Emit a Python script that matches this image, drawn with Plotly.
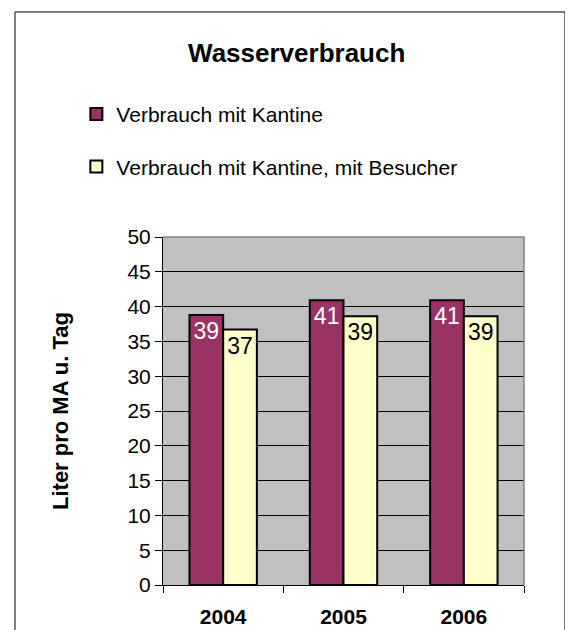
import plotly.graph_objects as go

# Daten (Liter pro Mitarbeiter und Tag)
jahre = ["2004", "2005", "2006"]
mit_kantine = [38.8, 40.9, 40.9]
mit_besucher = [36.7, 38.6, 38.6]

serie_namen = ["Verbrauch mit Kantine", "Verbrauch mit Kantine, mit Besucher"]
y_ticks = [0, 5, 10, 15, 20, 25, 30, 35, 40, 45, 50]

schrift = "Liberation Sans, Arial, sans-serif"

color_dict = dict()
color_dict["kantine"] = "#993366"
color_dict["besucher"] = "#FFFFCC"

fig = go.Figure()

fig.add_trace(go.Bar(
    x=jahre, y=mit_kantine,
    name=serie_namen[0],
    legendgroup="a",
    marker=dict(color=color_dict["kantine"], line=dict(color="black", width=2)),
    text=[str(round(v)) for v in mit_kantine],
    textposition="inside",
    insidetextanchor="end",
    textfont=dict(color="white", size=23, family=schrift),
))

fig.add_trace(go.Bar(
    x=jahre, y=mit_besucher,
    name=serie_namen[1],
    legendgroup="b",
    marker=dict(color=color_dict["besucher"], line=dict(color="black", width=2)),
    text=[str(round(v)) for v in mit_besucher],
    textposition="inside",
    insidetextanchor="end",
    textfont=dict(color="black", size=23, family=schrift),
))

# die Seite hat 8px Rand im body -> Figur entsprechend kleiner
fig.update_layout(
    width=565, height=622,
    margin=dict(l=155, r=49, t=229, b=45),
    paper_bgcolor="white",
    plot_bgcolor="#C0C0C0",
    font=dict(family=schrift, size=21, color="black"),
    barmode="group",
    bargap=0.44,
    bargroupgap=0,
    showlegend=True,
    title=dict(
        text="<b>Wasserverbrauch</b>",
        font=dict(size=26),
        xref="container", x=0.511, xanchor="center",
        yref="container", y=0.928, yanchor="middle",
    ),
    legend=dict(
        x=-0.24, xanchor="left",
        y=1.411, yanchor="top",
        bgcolor="rgba(0,0,0,0)",
        font=dict(size=21),
        tracegroupgap=22,
        traceorder="grouped",
    ),
    xaxis=dict(
        type="category",
        automargin=False,
        tickson="boundaries",
        ticks="outside", ticklen=7, tickcolor="black", tickwidth=1,
        showline=True, linecolor="black", linewidth=1,
        showgrid=False,
        tickfont=dict(size=21, family=schrift),
        tickprefix="<b>", ticksuffix="</b>",
        ticklabelstandoff=13,
    ),
    yaxis=dict(
        range=[0, 50],
        automargin=False,
        tickvals=y_ticks,
        ticks="outside", ticklen=7, tickcolor="black", tickwidth=1,
        showline=True, linecolor="black", linewidth=1,
        showgrid=True, gridcolor="black", gridwidth=1,
        zeroline=False,
        tickfont=dict(size=21),
        title=dict(text="<b>Liter pro MA u. Tag</b>", font=dict(size=22), standoff=52),
    ),
)

# grauer Rahmen der Zeichenflaeche (oben und rechts)
fig.add_shape(type="path", xref="paper", yref="paper",
              path="M 0,1 L 1,1 L 1,0", line=dict(color="#808080", width=1.5),
              layer="above")

# Rahmen um das ganze Diagramm
fig.add_shape(type="rect", xref="paper", yref="paper",
              x0=-0.41, x1=1.1136, y0=-0.2, y1=1.6466,
              line=dict(color="black", width=1), layer="below")

fig.write_html("out.html")
